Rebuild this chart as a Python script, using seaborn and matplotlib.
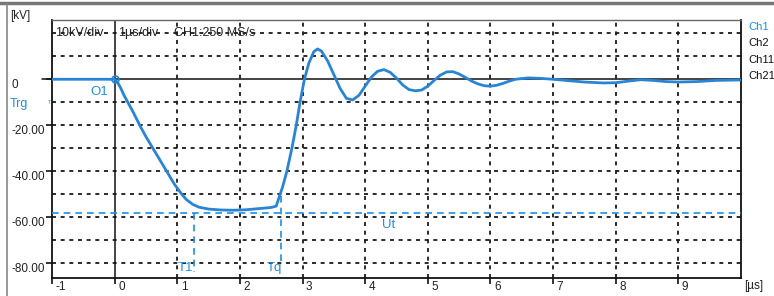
import matplotlib
matplotlib.use("Agg")
import matplotlib.pyplot as plt
import matplotlib.transforms as mtransforms
from matplotlib.lines import Line2D
import seaborn as sns
import pandas as pd

# ---------------- data ----------------
t_us = [-1.0, -0.5, 0.0, 0.05, 0.1, 0.15, 0.21, 0.3, 0.4, 0.5, 0.61, 0.72, 0.83, 0.95,
        1.07, 1.15, 1.25, 1.35, 1.5, 1.7, 1.9, 2.1, 2.3, 2.5, 2.58, 2.63, 2.68, 2.75,
        2.83, 2.9, 2.96, 3.03, 3.1, 3.18, 3.24, 3.3, 3.4, 3.5, 3.6, 3.7, 3.8, 3.9,
        4.0, 4.1, 4.2, 4.3, 4.4, 4.5, 4.6, 4.7, 4.8, 4.9, 5.0, 5.1, 5.2, 5.3, 5.4,
        5.5, 5.6, 5.7, 5.8, 5.9, 6.0, 6.1, 6.2, 6.3, 6.4, 6.6, 6.8, 7.0, 7.2, 7.5,
        7.8, 8.0, 8.2, 8.4, 8.6, 8.8, 9.0, 9.3, 9.6, 10.0]
u_kv = [0.0, 0.0, 0.0, -1.5, -4.0, -7.0, -10.0, -14.5, -20.0, -25.0, -30.0, -35.0, -40.0, -45.5,
        -50.0, -52.5, -54.5, -55.7, -56.5, -56.9, -57.0, -56.8, -56.3, -55.8, -55.2, -51.0, -47.0, -40.0,
        -30.0, -20.0, -10.0, 0.0, 7.0, 12.0, 13.2, 12.3, 8.0, 2.0, -4.0, -8.3, -9.0, -7.0,
        -3.0, 1.0, 3.5, 4.2, 3.0, 0.5, -2.5, -4.5, -5.0, -4.7, -3.0, -0.5, 1.8, 3.2, 3.3,
        2.3, 0.8, -0.8, -2.0, -2.8, -3.0, -2.6, -1.8, -0.8, 0.0, 0.6, 0.4, 0.0, -0.5, -1.2,
        -1.6, -1.5, -0.8, -0.2, -0.5, -1.0, -1.2, -1.0, -0.5, -0.3]

x_ticks = [-1, 0, 1, 2, 3, 4, 5, 6, 7, 8, 9]
x_tick_labels = ["-1", "0", "1", "2", "3", "4", "5", "6", "7", "8", "9"]
y_grid = [-80, -70, -60, -50, -40, -30, -20, -10, 0, 10, 20]
y_label_vals = [0, -20, -40, -60, -80]
y_label_text = ["0", "-20.00", "-40.00", "-60.00", "-80.00"]

ut_level = -58.0       # Ut cursor (kV)
t1_time = 1.27         # T1 cursor (us)
tq_time = 2.66         # Tq cursor (us)
tq_top = -51.0
channels = ["Ch1", "Ch2", "Ch11", "Ch21"]
header = ["10kV/div", "1\u00b5s/div", "CH1:250 MS/s"]

# ---------------- style ----------------
sns.set_theme(style="white")
plt.rcParams["font.family"] = ["Liberation Sans Narrow", "Liberation Sans", "DejaVu Sans"]
REG = ["Liberation Sans", "DejaVu Sans"]

BLUE = "#2a84d6"
LBLUE = "#1f8fe3"
GRID = (0, (2.2, 2.6))

fig = plt.figure(figsize=(7.74, 2.96), dpi=100)
W, H = 774, 296
ax = fig.add_axes([52 / W, 1 - 278 / H, (741 - 52) / W, (278 - 20) / H])
ax.set_facecolor("white")
ax.set_xlim(-1, 10)
ax.set_ylim(-86.5, 25.8)

# grid
for yv in y_grid:
    if yv != 0:
        ax.axhline(yv, color="#1a1a1a", lw=1.3, ls=GRID, zorder=1)
for xv in x_ticks[1:]:
    if xv != 0:
        ax.axvline(xv, color="#1a1a1a", lw=1.3, ls=GRID, zorder=1)
ax.axhline(0, xmin=-0.015, color="#111111", lw=1.1, zorder=2, clip_on=False)
ax.axvline(0, color="#111111", lw=1.1, zorder=2)

# cursors
ax.axhline(ut_level, color=LBLUE, lw=1.2, ls=(0, (4, 3)), zorder=3)
ax.plot([t1_time, t1_time], [ut_level, -84], color=LBLUE, lw=1.2, ls=(0, (4, 3)), zorder=3)
ax.plot([tq_time, tq_time], [tq_top, -79], color=LBLUE, lw=1.2, ls=(0, (4, 3)), zorder=3)

# waveform
df = pd.DataFrame({"t": t_us, "u": u_kv})
sns.lineplot(data=df, x="t", y="u", ax=ax, color=BLUE, lw=2.0, zorder=5, sort=False)
ax.plot([0], [0], marker="o", ms=5, mfc="none", mec=BLUE, mew=1.2, zorder=6)
ax.set_xlabel("")
ax.set_ylabel("")

# annotations
ax.text(-0.24, -5.5, "O1", color=LBLUE, fontsize=9.5, ha="center", va="center", family=REG)
ax.text(4.38, -63.3, "Ut", color=LBLUE, fontsize=9.5, ha="center", va="center", family=REG)
ax.text(1.13, -82, "T1", color=LBLUE, fontsize=9.5, ha="center", va="center", family=REG)
ax.text(2.55, -82, "Tq", color=LBLUE, fontsize=9.5, ha="center", va="center", family=REG)

# header text
for xv, s in zip([-0.95, 0.05, 0.95], header):
    ax.text(xv, 20, s, fontsize=9, color="#222222", ha="left", va="center")

# spines
for s in ["left", "bottom", "right"]:
    ax.spines[s].set_color("#111111")
    ax.spines[s].set_linewidth(1.3)
ax.spines["top"].set_color("#666666")
ax.spines["top"].set_linewidth(1.0)
ax.spines["top"].set_linestyle((0, (1, 1)))

# ticks
ax.set_xticks(x_ticks)
ax.set_xticklabels(x_tick_labels, family=REG)
ax.set_yticks(y_label_vals)
ax.set_yticklabels(y_label_text, family=REG)
ax.tick_params(axis="x", direction="out", length=4, width=1.2, color="#111111",
               pad=0, labelsize=8.5, labelcolor="#222222", bottom=True)
ax.tick_params(axis="y", direction="out", length=4, width=1.2, color="#111111",
               pad=25.5, labelsize=8.5, labelcolor="#222222", left=True)
dx = mtransforms.ScaledTranslation(2.5 / 72, 1.5 / 72, fig.dpi_scale_trans)
for lab in ax.get_xticklabels():
    lab.set_ha("left")
    lab.set_transform(lab.get_transform() + dx)
dy = mtransforms.ScaledTranslation(0, -3 / 72, fig.dpi_scale_trans)
for lab in ax.get_yticklabels():
    lab.set_ha("left")
    lab.set_transform(lab.get_transform() + dy)

# outside labels
fig.text(10 / W, 1 - 16 / H, "[kV]", fontsize=8.5, color="#222222", ha="left", va="center", family=REG)
fig.text(744 / W, 1 - 286 / H, "[\u00b5s]", fontsize=8.5, color="#222222", ha="left", va="center", family=REG)
fig.text(10 / W, 1 - 104 / H, "Trg", fontsize=9, color=LBLUE, ha="left", va="center", family=REG)
fig.text(50 / W, 1 - 104 / H, "\u1d40", fontsize=6, color=LBLUE, ha="center", va="center")
for i, ch in enumerate(channels):
    fig.text(748 / W, 1 - (27 + 16.4 * i) / H, ch, fontsize=8,
             color=LBLUE if i == 0 else "#111111", ha="left", va="center")

# scan frame
fig.add_artist(Line2D([0, 1], [1 - 3 / H, 1 - 3 / H], transform=fig.transFigure,
                      color="#777777", lw=2.5))
fig.add_artist(Line2D([7 / W, 7 / W], [0, 1 - 4 / H], transform=fig.transFigure,
                      color="#888888", lw=1.2))

fig.savefig("out.png", dpi=100)
